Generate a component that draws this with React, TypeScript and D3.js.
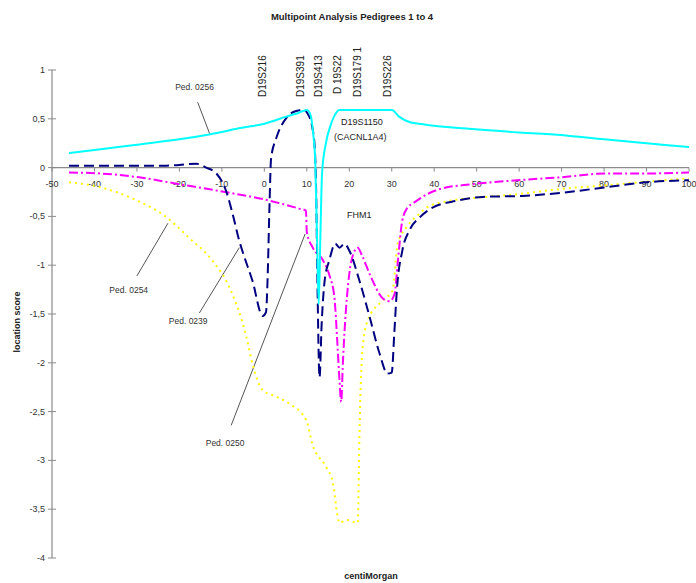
import React from "react";
import * as d3 from "d3";

const title = "Multipoint Analysis Pedigrees 1 to 4";
const xTicks = [-50, -40, -30, -20, -10, 0, 10, 20, 30, 40, 50, 60, 70, 80, 90, 100];
const yTicks = [1, 0.5, 0, -0.5, -1, -1.5, -2, -2.5, -3, -3.5, -4];

const markerNames = ["D19S216", "D19S391", "D19S413", "D 19S22", "D19S179", "D19S226"];
const markerPos = [-0.5, 8.5, 12.8, 17.2, 21.9, 29];

// Ped. 0256 (cyan, solid)
const cyanX = [-46, -40, -30, -20, -13, -5, 0, 5, 8, 10, 10.8, 11.5, 12, 12.4, 12.8, 13.2, 13.6, 14.5, 15.5, 16.5, 17.7, 30, 31.8, 34, 38, 47.6, 60, 71, 80, 90, 100];
const cyanY = [0.15, 0.18, 0.235, 0.29, 0.34, 0.41, 0.45, 0.52, 0.56, 0.59, 0.55, 0.35, 0.05, -0.7, -1.4, -0.7, -0.05, 0.25, 0.42, 0.53, 0.59, 0.59, 0.52, 0.47, 0.44, 0.4, 0.36, 0.33, 0.29, 0.25, 0.21];

// Ped. 0239 (navy, dashed)
const navyX = [-46, -35, -23, -16, -13.7, -11.3, -9, -7.5, -5.9, -5.2, -2.8, -0.4, 0.4, 0.8, 1.2, 1.6, 2.8, 5.2, 7.5, 9.4, 10.1, 11.3, 11.8, 12.2, 12.5, 13, 13.5, 14.2, 15.3, 16.7, 17.7, 18.9, 20, 22.4, 24.8, 27.1, 29, 30, 30.6, 31.2, 32.5, 34.2, 36.6, 39.6, 45.3, 51.4, 60.8, 69.6, 80.7, 90, 100];
const navyY = [0.02, 0.02, 0.02, 0.04, 0.0, -0.06, -0.24, -0.47, -0.75, -0.85, -1.16, -1.52, -1.48, -1.09, -0.41, 0.1, 0.3, 0.51, 0.58, 0.59, 0.56, 0.41, 0.25, -0.24, -1.16, -2.15, -1.6, -1.16, -0.95, -0.78, -0.82, -0.78, -0.85, -1.16, -1.53, -1.9, -2.11, -2.1, -1.7, -1.26, -0.85, -0.64, -0.51, -0.41, -0.34, -0.3, -0.29, -0.26, -0.2, -0.15, -0.13];

// Ped. 0250 (magenta, dash-dot)
const magX = [-46, -38.7, -29.5, -20, -10.6, 0.4, 8.2, 9.8, 10, 11.4, 13.8, 15.3, 16.5, 17.2, 17.7, 18.1, 18.5, 18.9, 20, 21, 22, 23, 24.8, 27.9, 29.5, 30.7, 31.4, 32.5, 33.7, 34.9, 38.9, 41.3, 49, 59.4, 69.6, 80.7, 90, 100];
const magY = [-0.05, -0.06, -0.1, -0.17, -0.24, -0.33, -0.42, -0.44, -0.66, -0.82, -0.95, -1.1, -1.33, -1.8, -2.18, -2.4, -2.0, -1.67, -1.09, -0.88, -0.82, -0.9, -1.09, -1.34, -1.37, -1.29, -0.98, -0.54, -0.41, -0.37, -0.26, -0.22, -0.17, -0.13, -0.1, -0.06, -0.06, -0.05];

// Ped. 0254 (yellow, dotted)
const yelX = [-46, -38.7, -30.9, -23, -17.7, -12.3, -8.3, -4.2, -2.8, -0.4, 1.9, 5.9, 9.9, 11.3, 14.6, 16, 17.7, 19.3, 22, 22.4, 23.1, 24.3, 27.9, 30.2, 31.4, 33.5, 36.6, 38.2, 43.6, 52.4, 60.1, 69.6, 80.7, 88.4, 100];
const yelY = [-0.15, -0.2, -0.32, -0.51, -0.72, -0.95, -1.22, -1.74, -2.01, -2.28, -2.33, -2.42, -2.59, -2.83, -3.07, -3.2, -3.64, -3.61, -3.64, -2.72, -1.87, -1.57, -1.36, -1.26, -0.78, -0.61, -0.47, -0.41, -0.34, -0.3, -0.27, -0.22, -0.18, -0.15, -0.11];

const pedLabels = ["Ped. 0256", "Ped. 0254", "Ped. 0239", "Ped. 0250"];
// label anchor (cM, score) and leader end on the curve (cM, score)
const pedLabelAt = [[-21, 0.8], [-36.5, -1.28], [-22.5, -1.6], [-13.8, -2.85]];
const pedLeaderFrom = [[-15.7, 0.67], [-30, -1.11], [-15.3, -1.49], [-7.8, -2.64]];
const pedLeaderTo = [[-12.9, 0.35], [-22.7, -0.57], [-5.9, -0.82], [9.6, -0.68]];

const fmt = (v: number) => String(v).replace(".", ",");

export default function App() {
  const W = 696, H = 583;
  const x = d3.scaleLinear().domain([-50, 100]).range([52, 689]);
  const y = d3.scaleLinear().domain([-4, 1]).range([558, 70]);
  const line = (xs: number[], ys: number[]) =>
    d3.line<number>().x((_, i) => x(xs[i])).y((v) => y(v)).curve(d3.curveMonotoneX)(ys) || "";
  const font = "'Liberation Sans', Arial, sans-serif";
  return (
    <svg width={W} height={H} style={{ position: "absolute", left: 0, top: 0, background: "#fff" }} fontFamily={font}>
      <rect width={W} height={H} fill="#fff" />
      <text x={352} y={20} textAnchor="middle" fontSize={9.5} fontWeight="bold" fill="#222">{title}</text>
      {markerNames.map((m, i) => {
        const px = x(markerPos[i]) + 3.5;
        const by = m === "D 19S22" ? 94 : 97;
        return (
          <text key={m} transform={`translate(${px},${by}) rotate(-90)`} fontSize={10} fill="#222">{m === "D19S179" ? "D19S179 1" : m}</text>
        );
      })}
      {/* axes */}
      <line x1={x(-50)} x2={x(100)} y1={y(0)} y2={y(0)} stroke="#8a8a8a" strokeWidth={1.2} />
      <line x1={x(-50)} x2={x(-50)} y1={y(1)} y2={y(-4)} stroke="#8a8a8a" strokeWidth={1.2} />
      {xTicks.map((t) => (
        <g key={"xt" + t}>
          <line x1={x(t)} x2={x(t)} y1={y(0)} y2={y(0) + 4} stroke="#8a8a8a" />
          <text x={x(t)} y={y(0) + 19} textAnchor="middle" fontSize={9} fill="#333">{t}</text>
        </g>
      ))}
      {yTicks.map((t) => (
        <g key={"yt" + t}>
          <line x1={x(-50) - 4} x2={x(-50) + 4} y1={y(t)} y2={y(t)} stroke="#8a8a8a" />
          <text x={x(-50) - 7} y={y(t) + 3} textAnchor="end" fontSize={9} fill="#333">{fmt(t)}</text>
        </g>
      ))}
      <text transform={`translate(20,322) rotate(-90)`} textAnchor="middle" fontSize={9} fontWeight="bold" fill="#222">location score</text>
      <text x={371} y={579} textAnchor="middle" fontSize={9} fontWeight="bold" fill="#222">centiMorgan</text>
      {/* annotations */}
      <text x={341} y={125} fontSize={9} fill="#222">D19S1150</text>
      <text x={334} y={140} fontSize={9} fill="#222">(CACNL1A4)</text>
      <text x={347} y={218} fontSize={9} fill="#222">FHM1</text>
      {pedLabels.map((p, i) => (
        <g key={p}>
          <text x={x(pedLabelAt[i][0])} y={y(pedLabelAt[i][1])} fontSize={8.5} fill="#333">{p}</text>
          <line x1={x(pedLeaderFrom[i][0])} y1={y(pedLeaderFrom[i][1])} x2={x(pedLeaderTo[i][0])} y2={y(pedLeaderTo[i][1])} stroke="#555" strokeWidth={1} />
        </g>
      ))}
      {/* series */}
      <path d={line(yelX, yelY)} fill="none" stroke="#ffff00" strokeWidth={2} strokeDasharray="2,4" />
      <path d={line(magX, magY)} fill="none" stroke="#ff00ff" strokeWidth={2} strokeDasharray="9,3,2,3" />
      <path d={line(navyX, navyY)} fill="none" stroke="#000080" strokeWidth={2} strokeDasharray="10,5" />
      <path d={line(cyanX, cyanY)} fill="none" stroke="#00ffff" strokeWidth={2} />
    </svg>
  );
}
